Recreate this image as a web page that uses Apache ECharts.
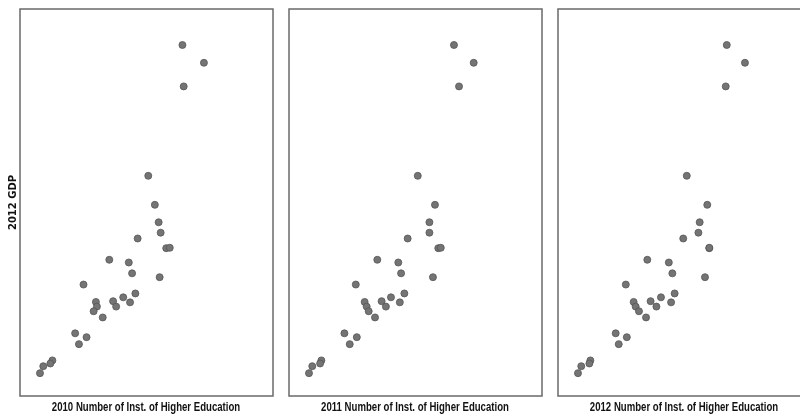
<!DOCTYPE html>
<html>
<head>
<meta charset="utf-8">
<script src="https://cdn.jsdelivr.net/npm/echarts@6/dist/echarts.min.js"></script>
<style>
html,body{margin:0;padding:0;background:#fff;overflow:hidden;width:800px;height:417px;}
#chart{width:815px;height:417px;}
</style>
</head>
<body>
<div id="chart"></div>
<script>
// Shared y values: 2012 GDP (relative units)
var gdp2012 = [90.7, 86.1, 80.0, 56.9, 49.4, 44.9, 42.2, 40.7, 38.2, 38.3, 35.2, 34.5, 31.7, 30.7, 28.8, 26.5, 25.5, 24.5, 24.2, 24.3, 23.1, 23.1, 21.9, 20.3, 16.2, 15.2, 13.4, 9.2, 8.4, 7.7, 5.9];
// x values: Number of Inst. of Higher Education (relative units)
var inst2010 = [64.2, 72.7, 64.7, 50.7, 53.3, 54.8, 55.6, 46.5, 57.8, 59.2, 35.3, 43.0, 44.3, 55.2, 25.1, 45.6, 40.8, 36.8, 43.5, 30.0, 38.0, 30.4, 29.1, 32.7, 21.8, 26.3, 23.3, 12.8, 12.0, 9.2, 7.9];
var inst2011 = [65.2, 73.0, 67.2, 50.9, 57.7, 55.5, 55.5, 46.9, 59.0, 60.0, 34.9, 43.2, 44.3, 56.9, 26.4, 45.6, 40.3, 36.6, 43.8, 29.9, 38.3, 30.7, 31.5, 34.0, 21.9, 26.8, 24.0, 12.8, 12.3, 9.2, 7.9];
var inst2012 = [66.7, 73.9, 66.3, 50.9, 59.0, 56.0, 55.5, 49.5, 59.8, 59.8, 35.3, 43.8, 45.2, 58.1, 26.8, 46.1, 40.7, 36.6, 44.7, 29.9, 38.9, 30.7, 32.0, 34.8, 22.8, 27.2, 24.0, 12.8, 12.4, 9.2, 7.9];
var xNames = ['2010 Number of Inst. of Higher Education', '2011 Number of Inst. of Higher Education', '2012 Number of Inst. of Higher Education'];
var yName = '2012 GDP';

var xSets = [inst2010, inst2011, inst2012];
var gridLefts = [20, 289, 558];
var gridW = 253, gridTop = 9, gridH = 387;
var grids = [], xAxes = [], yAxes = [], series = [], graphics = [];
var hidden = {axisLine:{show:false}, axisTick:{show:false}, axisLabel:{show:false}, splitLine:{show:false}};
for (var i = 0; i < 3; i++) {
  grids.push({left: gridLefts[i], top: gridTop, width: gridW, height: gridH, show: true,
    borderColor: '#6a6a6a', borderWidth: 1.5, backgroundColor: '#fff', containLabel: false});
  xAxes.push(Object.assign({type: 'value', gridIndex: i, min: 0, max: 100}, hidden));
  var ya = Object.assign({type: 'value', gridIndex: i, min: 0, max: 100}, hidden);
  if (i === 0) {
    ya.name = yName; ya.nameLocation = 'middle'; ya.nameGap = 2;
    ya.nameTextStyle = {fontFamily: 'DejaVu Sans, sans-serif', fontWeight: 'bold', fontSize: 10, color: '#111'};
  }
  yAxes.push(ya);
  var pts = xSets[i].map(function(x, k){ return [x, gdp2012[k]]; });
  series.push({type: 'scatter', xAxisIndex: i, yAxisIndex: i, data: pts, symbolSize: 7,
    itemStyle: {color: '#747474', borderColor: '#555', borderWidth: 0.8, opacity: 1}});
  // condensed x-axis title (no narrow font installed, so compress horizontally)
  graphics.push({type: 'text', x: gridLefts[i] + 126, y: 408, scaleX: 0.8, scaleY: 1,
    style: {text: xNames[i], fontFamily: 'Liberation Sans, Arial, sans-serif', fontWeight: 'bold', fontSize: 12,
      fill: '#111', align: 'center', verticalAlign: 'middle'}});
}
var chart = echarts.init(document.getElementById('chart'));
chart.setOption({animation: false, backgroundColor: '#fff', grid: grids, xAxis: xAxes, yAxis: yAxes, series: series, graphic: graphics});
</script>
</body>
</html>
